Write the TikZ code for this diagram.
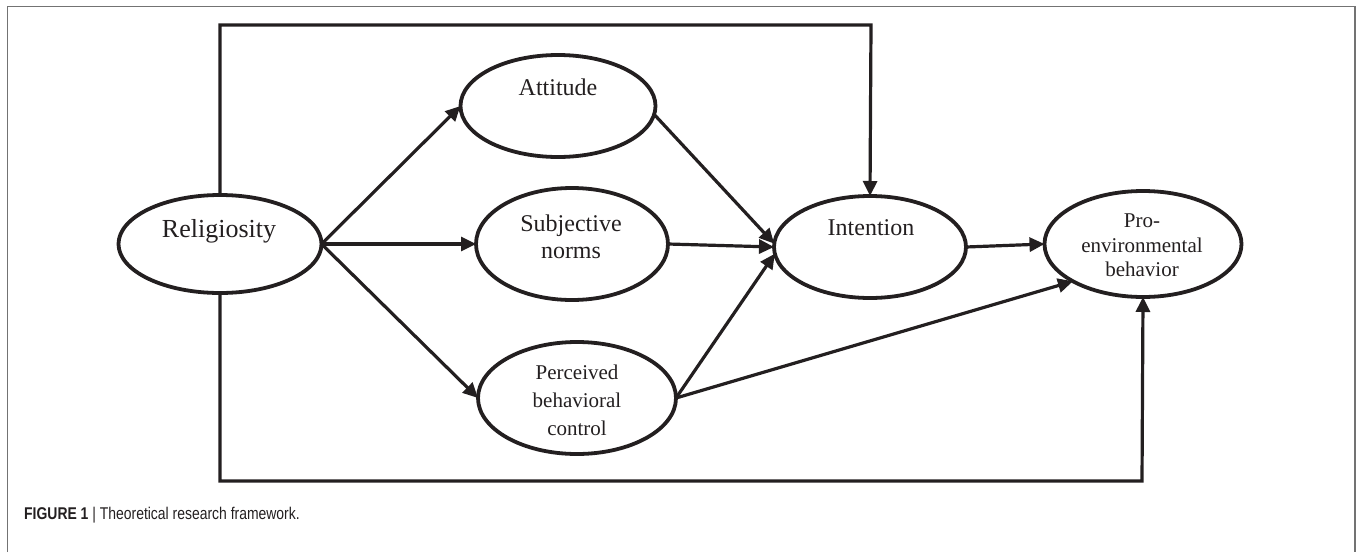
\documentclass[tikz,border=0pt]{standalone}
\usepackage{fontspec}
\setmainfont{Liberation Serif}
\newfontfamily\capfont[FakeStretch=0.82]{Liberation Sans}
\usetikzlibrary{shapes.geometric,arrows.meta}
\definecolor{ink}{HTML}{231F20}
\begin{document}
\begin{tikzpicture}[x=1pt,y=-1pt,
  ell/.style={draw=ink,line width=3.8pt,ellipse,inner sep=0pt,outer sep=0pt},
  conn/.style={line width=3.2pt,draw=ink,-{Triangle[length=15pt,width=14pt]}},
  frameline/.style={line width=1.5pt,draw=black!55},
  lbl/.style={anchor=base,inner sep=0pt,text=ink},
  big/.style={font=\fontsize{26}{30}\selectfont},
  mid/.style={font=\fontsize{24}{28}\selectfont},
  small/.style={font=\fontsize{21}{25}\selectfont}]
\useasboundingbox (0,0) rectangle (1357,552);
\draw[frameline] (7.5,552) -- (7.5,6.5) -- (1355,6.5) -- (1355,552);

% ellipses
\node[ell,minimum width=203pt,minimum height=98pt]  (rel)  at (220,244) {};
\node[ell,minimum width=195pt,minimum height=102pt] (att)  at (558,106) {};
\node[ell,minimum width=192pt,minimum height=112pt] (subj) at (572,244) {};
\node[ell,minimum width=198pt,minimum height=112pt] (pbc)  at (577,398) {};
\node[ell,minimum width=192pt,minimum height=102pt] (int)  at (870,247) {};
\node[ell,minimum width=197pt,minimum height=106pt] (pro)  at (1143,244) {};

% labels
\node[lbl,big] (trel) at (219,237) {Religiosity};
\node[lbl,mid] (tatt) at (558,95) {Attitude};
\node[lbl,mid] (tint) at (871,235) {Intention};
\node[lbl,mid] (tsub1) at (571,231) {Subjective};
\node[lbl,mid] (tsub2) at (571,258) {norms};
\node[lbl,small] (tpbc1) at (577,379) {Perceived};
\node[lbl,small] (tpbc2) at (577,407) {behavioral};
\node[lbl,small] (tpbc3) at (577,435) {control};
\node[lbl,small] (tpro1) at (1142,227) {Pro-};
\node[lbl,small] (tpro2) at (1142,252) {environmental};
\node[lbl,small] (tpro3) at (1142,276) {behavior};

% connectors
\coordinate (topc) at (871,25);
\coordinate (botc) at (1142,481);
\draw[conn] (rel.east) -- (att.west);
\draw[conn] (rel.east) -- (subj.west);
\draw[conn] (rel.east) -- (pbc.west);
\draw[conn] (att.-5) -- (int.178);
\draw[conn] (subj.east) -- (int.west);
\draw[conn] (pbc.east) -- (int.184);
\draw[conn] (pbc.east) -- (pro.208);
\draw[conn] (int.east) -- (pro.west);
\draw[conn] (rel.north) |- (topc) -- (int.north);
\draw[conn] (rel.south) |- (botc) -- (pro.south);

% caption
\node[anchor=base west,inner sep=0pt,text=ink] (cap) at (24,519)
  {\capfont\fontsize{17}{20}\selectfont\textbf{FIGURE 1} | Theoretical research framework.};
\end{tikzpicture}
\end{document}
